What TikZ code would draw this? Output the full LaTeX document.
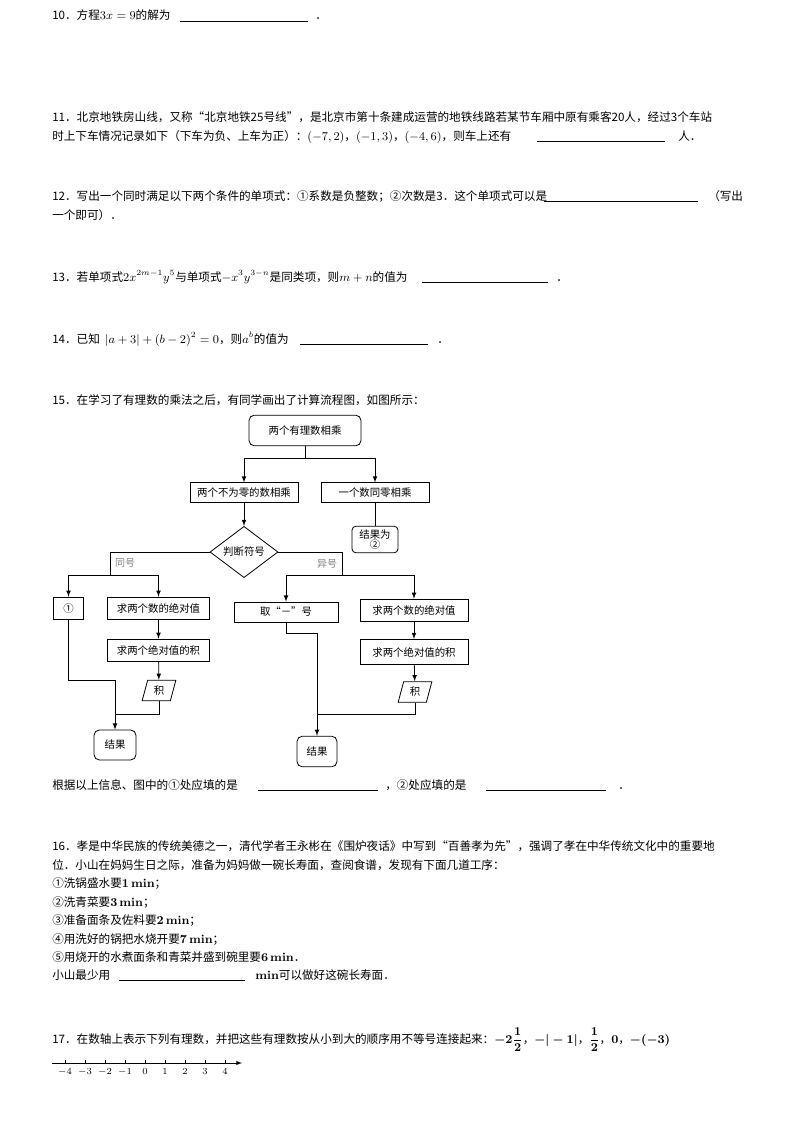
\documentclass[tikz,border=0pt]{standalone}
\usepackage{amsmath}
\usepackage[no-math]{fontspec}
\setmainfont{Noto Sans CJK SC}
\usetikzlibrary{shapes.geometric}
\tikzset{
  txt/.style={anchor=base west, inner sep=0pt, font=\fontsize{8.7}{10}\selectfont},
  proc/.style={draw, semithick, inner sep=0pt, font=\fontsize{7.8}{9}\selectfont},
  term/.style={proc, rounded corners=4pt},
  decide/.style={proc, diamond},
  outp/.style={proc, trapezium, trapezium left angle=75, trapezium right angle=105},
  lab/.style={inner sep=0pt, text=gray, font=\fontsize{7.5}{9}\selectfont},
  fl/.style={semithick, -latex}
}
\newcommand{\fillline}[3]{\draw[line width=0.5pt] (#1,#3) -- (#2,#3);}
\begin{document}
\begin{tikzpicture}[x=0.75pt, y=-0.75pt]
\useasboundingbox (0,0) rectangle (794,1124);
%% questions 10 -- 14
\node[txt] at (52,20) {10．方程$3x=9$的解为};
\fillline{180}{308}{21}
\node[txt] at (315,20) {．};
\node[txt] at (52,121) {11．北京地铁房山线，又称“北京地铁25号线”，是北京市第十条建成运营的地铁线路若某节车厢中原有乘客20人，经过3个车站};
\node[txt] at (52,140) {时上下车情况记录如下（下车为负、上车为正）：$(-7,2)$，$(-1,3)$，$(-4,6)$，则车上还有};
\fillline{537}{665}{141}
\node[txt] at (678,140) {人．};
\node[txt] at (52,200) {12．写出一个同时满足以下两个条件的单项式：①系数是负整数；②次数是3．这个单项式可以是};
\fillline{544}{698}{201}
\node[txt] at (708,200) {（写出};
\node[txt] at (52,219) {一个即可）．};
\node[txt] at (52,281) {13．若单项式$2x^{2m-1}y^5$与单项式$-x^3y^{3-n}$是同类项，则$m+n$的值为};
\fillline{422}{548}{282}
\node[txt] at (556,281) {．};
\node[txt] at (52,343) {14．已知\ \ $|a+3|+(b-2)^2=0$，则$a^b$的值为};
\fillline{300}{428}{344}
\node[txt] at (437,343) {．};
\node[txt] at (52,404) {15．在学习了有理数的乘法之后，有同学画出了计算流程图，如图所示：};
%% flowchart
\node[term, minimum width=84pt, minimum height=23pt] (start) at (305,430.5) {两个有理数相乘};
\node[proc, minimum width=81pt, minimum height=14.5pt] (nonzero) at (244,492.5) {两个不为零的数相乘};
\node[proc, minimum width=81pt, minimum height=14.5pt] (zero) at (375,492.5) {一个数同零相乘};
\node[term, minimum width=34.5pt, minimum height=20pt, align=center, rounded corners=3pt] (res2) at (375,539.5) {结果为\\[-2pt]②};
\node[decide, minimum width=51pt, minimum height=37.5pt] (sign) at (244,552) {判断符号};
\node[proc, minimum width=23pt, minimum height=17pt] (blank1) at (68.5,608.5) {①};
\node[proc, minimum width=76pt, minimum height=17pt] (absL) at (158.5,608.5) {求两个数的绝对值};
\node[proc, minimum width=77pt, minimum height=17pt] (prodL) at (158.5,650.5) {求两个绝对值的积};
\node[outp, minimum width=17pt, minimum height=15.5pt] (jiL) at (159,690.5) {积};
\node[term, minimum width=31.5pt, minimum height=22.5pt] (resL) at (115,745) {结果};
\node[proc, minimum width=78pt, minimum height=15pt] (neg) at (286,612) {取“－”号};
\node[proc, minimum width=81pt, minimum height=17pt] (absR) at (414,610.5) {求两个数的绝对值};
\node[proc, minimum width=81pt, minimum height=19pt] (prodR) at (414,652) {求两个绝对值的积};
\node[outp, minimum width=17pt, minimum height=15.5pt] (jiR) at (415,692) {积};
\node[term, minimum width=30pt, minimum height=23pt] (resR) at (317,751.5) {结果};
\node[lab] (same) at (125,563) {同号};
\node[lab] (diff) at (327,564) {异号};
\coordinate (s0) at (305,458);
\coordinate (l0) at (110,575);
\coordinate (r0) at (342,575);
\coordinate (k1) at (115,680);
\coordinate (k2) at (115,714);
\coordinate (k3) at (317,633);
\coordinate (k4) at (317,714);
\draw[semithick] (start) -- (s0);
\draw[fl] (s0) -| (nonzero);
\draw[fl] (s0) -| (zero);
\draw[semithick] (zero) -- (res2);
\draw[fl] (nonzero) -- (sign);
\draw[semithick] (sign.west) -| (l0);
\draw[fl] (l0) -| (blank1);
\draw[fl] (l0) -| (absL);
\draw[semithick] (sign.east) -| (r0);
\draw[fl] (r0) -| (neg);
\draw[fl] (r0) -| (absR);
\draw[fl] (absL) -- (prodL);
\draw[fl] (prodL) -- (jiL);
\draw[fl] (absR) -- (prodR);
\draw[fl] (prodR) -- (jiR);
\draw[semithick] (blank1) |- (k1);
\draw[fl] (k1) -- (resL);
\draw[semithick] (jiL) |- (k2);
\draw[semithick] (neg) |- (k3);
\draw[fl] (k3) -- (resR);
\draw[semithick] (jiR) |- (k4);
\node[txt] at (52,789) {根据以上信息、图中的①处应填的是};
\fillline{258}{378}{790}
\node[txt] at (385,789) {，②处应填的是};
\fillline{486}{606}{790}
\node[txt] at (618,789) {．};
%% question 16
\node[txt] at (52,850) {16．孝是中华民族的传统美德之一，清代学者王永彬在《围炉夜话》中写到“百善孝为先”，强调了孝在中华传统文化中的重要地};
\node[txt] at (52,869) {位．小山在妈妈生日之际，准备为妈妈做一碗长寿面，查阅食谱，发现有下面几道工序：};
\node[txt] at (52,887) {①洗锅盛水要$\mathbf{1\,min}$；};
\node[txt] at (52,906) {②洗青菜要$\mathbf{3\,min}$；};
\node[txt] at (52,924) {③准备面条及佐料要$\mathbf{2\,min}$；};
\node[txt] at (52,943) {④用洗好的锅把水烧开要$\mathbf{7\,min}$；};
\node[txt] at (52,961) {⑤用烧开的水煮面条和青菜并盛到碗里要$\mathbf{6\,min}$．};
\node[txt] at (52,979) {小山最少用};
\fillline{119}{245}{980}
\node[txt] at (255,979) {$\mathbf{min}$可以做好这碗长寿面．};
%% question 17
\node[txt] at (52,1043) {17．在数轴上表示下列有理数，并把这些有理数按从小到大的顺序用不等号连接起来：$\boldsymbol{-2\dfrac{1}{2}}$，$\boldsymbol{-|-1|}$，$\boldsymbol{\dfrac{1}{2}}$，$\mathbf{0}$，$\boldsymbol{-(-3)}$};
\draw[-latex, line width=0.5pt] (52,1063) -- (242,1063);
\foreach \k in {-4,...,4}
  \draw[line width=0.5pt] ({145+20*\k},1063) -- ({145+20*\k},1060)
    node[below=6pt, inner sep=0pt, font=\fontsize{7}{8}\selectfont] {$\k$};
\end{tikzpicture}
\end{document}
